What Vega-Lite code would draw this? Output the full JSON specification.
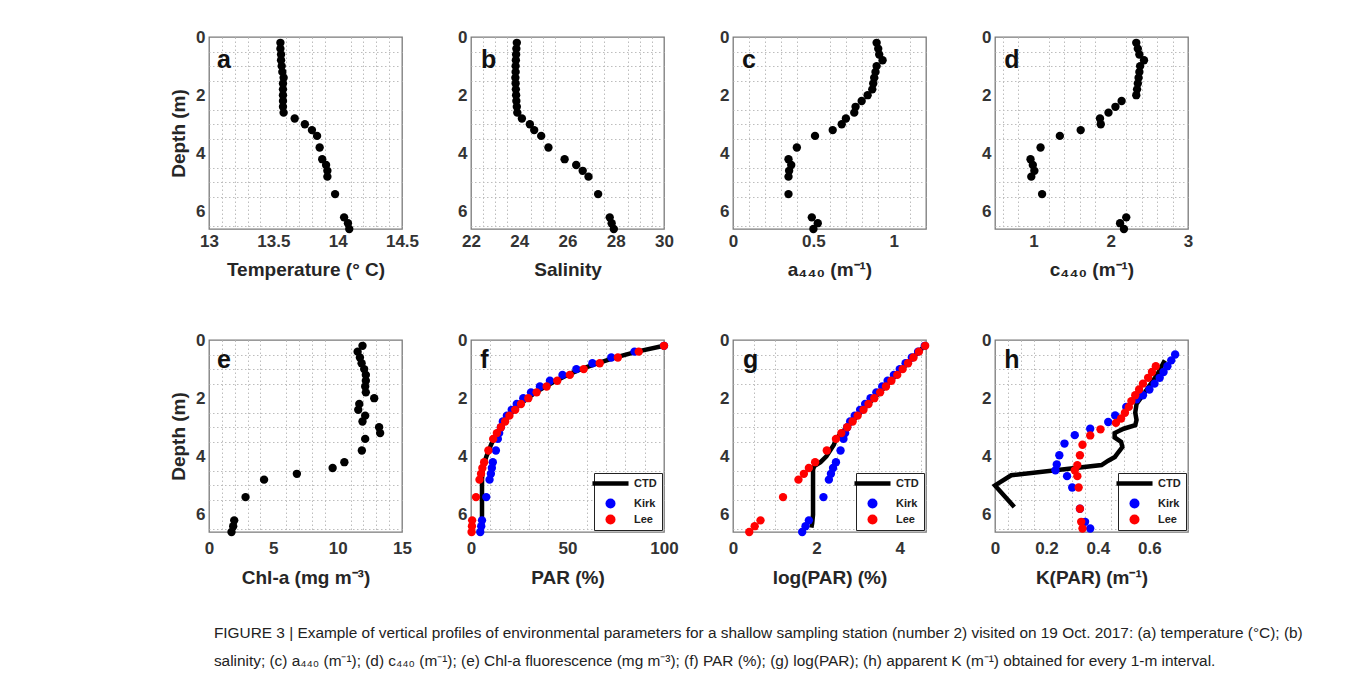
{
  "$schema": "https://vega.github.io/schema/vega-lite/v6.json",
  "background": "white",
  "padding": {"left": 168, "top": 27, "right": 10, "bottom": 6},
  "title": {
    "text": [
      "FIGURE 3 | Example of vertical profiles of environmental parameters for a shallow sampling station (number 2) visited on 19 Oct. 2017: (a) temperature (°C); (b)",
      "salinity; (c) a₄₄₀ (m⁻¹); (d) c₄₄₀ (m⁻¹); (e) Chl-a fluorescence (mg m⁻³); (f) PAR (%); (g) log(PAR); (h) apparent K (m⁻¹) obtained for every 1-m interval."
    ],
    "orient": "bottom", "anchor": "start", "frame": "bounds",
    "font": "Liberation Sans", "fontSize": 15.4, "fontWeight": "normal", "color": "#222222",
    "lineHeight": 28, "offset": 38, "dx": 45
  },
  "columns": 4,
  "spacing": {"row": 111, "column": 69},
  "bounds": "flush",
  "resolve": {"scale": {"color": "independent"}, "legend": {"color": "independent"}},
  "datasets": {
    "a": [
      {"d":0.2,"v":13.555},{"d":0.4,"v":13.555},{"d":0.6,"v":13.56},{"d":0.8,"v":13.56},{"d":1.0,"v":13.565},{"d":1.2,"v":13.57},{"d":1.4,"v":13.58},{"d":1.6,"v":13.575},{"d":1.8,"v":13.575},{"d":2.0,"v":13.575},{"d":2.2,"v":13.575},{"d":2.4,"v":13.575},{"d":2.6,"v":13.58},{"d":2.8,"v":13.666},{"d":3.0,"v":13.745},{"d":3.2,"v":13.8},{"d":3.4,"v":13.84},{"d":3.8,"v":13.86},{"d":4.2,"v":13.88},{"d":4.4,"v":13.91},{"d":4.6,"v":13.92},{"d":4.8,"v":13.92},{"d":5.4,"v":13.98},{"d":6.2,"v":14.05},{"d":6.4,"v":14.08},{"d":6.6,"v":14.09}
    ],
    "b": [
      {"d":0.2,"v":23.9},{"d":0.4,"v":23.88},{"d":0.6,"v":23.87},{"d":0.8,"v":23.86},{"d":1.0,"v":23.85},{"d":1.2,"v":23.85},{"d":1.4,"v":23.84},{"d":1.6,"v":23.85},{"d":1.8,"v":23.86},{"d":2.0,"v":23.87},{"d":2.2,"v":23.88},{"d":2.4,"v":23.9},{"d":2.6,"v":23.92},{"d":2.8,"v":24.11},{"d":3.0,"v":24.44},{"d":3.2,"v":24.62},{"d":3.4,"v":24.91},{"d":3.8,"v":25.21},{"d":4.2,"v":25.88},{"d":4.4,"v":26.36},{"d":4.6,"v":26.63},{"d":4.8,"v":26.87},{"d":5.4,"v":27.27},{"d":6.2,"v":27.75},{"d":6.4,"v":27.83},{"d":6.6,"v":27.92}
    ],
    "c": [
      {"d":0.2,"v":0.893},{"d":0.4,"v":0.903},{"d":0.6,"v":0.909},{"d":0.8,"v":0.93},{"d":1.0,"v":0.893},{"d":1.2,"v":0.886},{"d":1.4,"v":0.878},{"d":1.6,"v":0.872},{"d":1.8,"v":0.866},{"d":2.0,"v":0.837},{"d":2.2,"v":0.8},{"d":2.4,"v":0.762},{"d":2.6,"v":0.754},{"d":2.8,"v":0.702},{"d":3.0,"v":0.676},{"d":3.2,"v":0.62},{"d":3.4,"v":0.51},{"d":3.8,"v":0.397},{"d":4.2,"v":0.345},{"d":4.4,"v":0.362},{"d":4.6,"v":0.349},{"d":4.8,"v":0.345},{"d":5.4,"v":0.345},{"d":6.2,"v":0.49},{"d":6.4,"v":0.527},{"d":6.6,"v":0.5}
    ],
    "dd": [
      {"d":0.2,"v":2.33},{"d":0.4,"v":2.35},{"d":0.6,"v":2.37},{"d":0.8,"v":2.43},{"d":1.0,"v":2.38},{"d":1.2,"v":2.37},{"d":1.4,"v":2.36},{"d":1.6,"v":2.35},{"d":1.8,"v":2.34},{"d":2.0,"v":2.33},{"d":2.2,"v":2.14},{"d":2.4,"v":2.06},{"d":2.6,"v":1.97},{"d":2.8,"v":1.86},{"d":3.0,"v":1.87},{"d":3.2,"v":1.61},{"d":3.4,"v":1.34},{"d":3.8,"v":1.09},{"d":4.2,"v":0.96},{"d":4.4,"v":0.99},{"d":4.6,"v":1.01},{"d":4.8,"v":0.97},{"d":5.4,"v":1.11},{"d":6.2,"v":2.2},{"d":6.4,"v":2.12},{"d":6.6,"v":2.17}
    ],
    "e": [
      {"d":0.2,"v":11.93},{"d":0.4,"v":11.55},{"d":0.6,"v":11.73},{"d":0.8,"v":11.86},{"d":1.0,"v":12.06},{"d":1.2,"v":12.19},{"d":1.4,"v":12.19},{"d":1.6,"v":12.14},{"d":1.8,"v":12.19},{"d":2.0,"v":12.84},{"d":2.2,"v":11.68},{"d":2.4,"v":11.6},{"d":2.6,"v":12.14},{"d":2.8,"v":11.93},{"d":3.0,"v":13.22},{"d":3.2,"v":13.3},{"d":3.4,"v":12.14},{"d":3.8,"v":11.88},{"d":4.2,"v":10.52},{"d":4.4,"v":9.61},{"d":4.6,"v":6.83},{"d":4.8,"v":4.28},{"d":5.4,"v":2.84},{"d":6.2,"v":1.96},{"d":6.4,"v":1.88},{"d":6.6,"v":1.75}
    ],
    "f": [
      {"s":"CTD","d":0.2,"v":100},{"s":"CTD","d":0.4,"v":86},{"s":"CTD","d":0.6,"v":75},{"s":"CTD","d":0.8,"v":65.5},{"s":"CTD","d":1.0,"v":57},{"s":"CTD","d":1.2,"v":50},{"s":"CTD","d":1.4,"v":44},{"s":"CTD","d":1.6,"v":38.5},{"s":"CTD","d":1.8,"v":33.5},{"s":"CTD","d":2.0,"v":29.3},{"s":"CTD","d":2.2,"v":25.6},{"s":"CTD","d":2.4,"v":22.5},{"s":"CTD","d":2.6,"v":19.6},{"s":"CTD","d":2.8,"v":17.3},{"s":"CTD","d":3.0,"v":15.2},{"s":"CTD","d":3.2,"v":13.4},{"s":"CTD","d":3.4,"v":11.8},{"s":"CTD","d":3.6,"v":10.4},{"s":"CTD","d":3.8,"v":9.2},{"s":"CTD","d":4.0,"v":8.0},{"s":"CTD","d":4.2,"v":7.0},{"s":"CTD","d":4.4,"v":6.3},{"s":"CTD","d":4.6,"v":5.9},{"s":"CTD","d":4.8,"v":5.7},{"s":"CTD","d":5.2,"v":5.7},{"s":"CTD","d":5.6,"v":5.7},{"s":"CTD","d":6.0,"v":5.7},{"s":"CTD","d":6.3,"v":5.6},{"s":"CTD","d":6.5,"v":5.5},
      {"s":"Kirk","d":0.2,"v":100},{"s":"Kirk","d":0.4,"v":84.7},{"s":"Kirk","d":0.6,"v":72.7},{"s":"Kirk","d":0.8,"v":62.9},{"s":"Kirk","d":1.0,"v":54.6},{"s":"Kirk","d":1.2,"v":47.4},{"s":"Kirk","d":1.4,"v":40.9},{"s":"Kirk","d":1.6,"v":35.7},{"s":"Kirk","d":1.8,"v":31.1},{"s":"Kirk","d":2.0,"v":27.1},{"s":"Kirk","d":2.2,"v":23.7},{"s":"Kirk","d":2.4,"v":21.1},{"s":"Kirk","d":2.6,"v":18.6},{"s":"Kirk","d":2.8,"v":16.5},{"s":"Kirk","d":3.0,"v":15.5},{"s":"Kirk","d":3.2,"v":14.6},{"s":"Kirk","d":3.4,"v":13.9},{"s":"Kirk","d":3.8,"v":12.9},{"s":"Kirk","d":4.2,"v":11.3},{"s":"Kirk","d":4.4,"v":10.8},{"s":"Kirk","d":4.6,"v":10.3},{"s":"Kirk","d":4.8,"v":9.6},{"s":"Kirk","d":5.4,"v":7.9},{"s":"Kirk","d":6.2,"v":5.7},{"s":"Kirk","d":6.4,"v":5.3},{"s":"Kirk","d":6.6,"v":4.8},
      {"s":"Lee","d":0.2,"v":100},{"s":"Lee","d":0.4,"v":86.9},{"s":"Lee","d":0.6,"v":76.1},{"s":"Lee","d":0.8,"v":66.7},{"s":"Lee","d":1.0,"v":58.4},{"s":"Lee","d":1.2,"v":51.2},{"s":"Lee","d":1.4,"v":44.7},{"s":"Lee","d":1.6,"v":39.2},{"s":"Lee","d":1.8,"v":34.0},{"s":"Lee","d":2.0,"v":29.7},{"s":"Lee","d":2.2,"v":25.9},{"s":"Lee","d":2.4,"v":22.9},{"s":"Lee","d":2.6,"v":19.9},{"s":"Lee","d":2.8,"v":17.7},{"s":"Lee","d":3.0,"v":15.5},{"s":"Lee","d":3.2,"v":13.4},{"s":"Lee","d":3.4,"v":11.5},{"s":"Lee","d":3.8,"v":9.0},{"s":"Lee","d":4.2,"v":6.8},{"s":"Lee","d":4.4,"v":5.9},{"s":"Lee","d":4.6,"v":5.2},{"s":"Lee","d":4.8,"v":4.4},{"s":"Lee","d":5.4,"v":2.6},{"s":"Lee","d":6.2,"v":0.6},{"s":"Lee","d":6.4,"v":0.5},{"s":"Lee","d":6.6,"v":0.3}
    ],
    "g": [
      {"s":"CTD","d":0.2,"v":4.6},{"s":"CTD","d":0.4,"v":4.46},{"s":"CTD","d":0.6,"v":4.32},{"s":"CTD","d":0.8,"v":4.19},{"s":"CTD","d":1.0,"v":4.05},{"s":"CTD","d":1.2,"v":3.92},{"s":"CTD","d":1.4,"v":3.79},{"s":"CTD","d":1.6,"v":3.66},{"s":"CTD","d":1.8,"v":3.52},{"s":"CTD","d":2.0,"v":3.38},{"s":"CTD","d":2.2,"v":3.25},{"s":"CTD","d":2.4,"v":3.12},{"s":"CTD","d":2.6,"v":2.99},{"s":"CTD","d":2.8,"v":2.86},{"s":"CTD","d":3.0,"v":2.73},{"s":"CTD","d":3.2,"v":2.6},{"s":"CTD","d":3.4,"v":2.47},{"s":"CTD","d":3.6,"v":2.42},{"s":"CTD","d":3.8,"v":2.33},{"s":"CTD","d":4.0,"v":2.24},{"s":"CTD","d":4.2,"v":2.1},{"s":"CTD","d":4.33,"v":1.95},{"s":"CTD","d":4.45,"v":1.92},{"s":"CTD","d":5.0,"v":1.92},{"s":"CTD","d":5.5,"v":1.92},{"s":"CTD","d":6.0,"v":1.92},{"s":"CTD","d":6.3,"v":1.9},{"s":"CTD","d":6.45,"v":1.88},
      {"s":"Kirk","d":0.2,"v":4.6},{"s":"Kirk","d":0.4,"v":4.44},{"s":"Kirk","d":0.6,"v":4.29},{"s":"Kirk","d":0.8,"v":4.14},{"s":"Kirk","d":1.0,"v":4.0},{"s":"Kirk","d":1.2,"v":3.86},{"s":"Kirk","d":1.4,"v":3.71},{"s":"Kirk","d":1.6,"v":3.58},{"s":"Kirk","d":1.8,"v":3.44},{"s":"Kirk","d":2.0,"v":3.3},{"s":"Kirk","d":2.2,"v":3.17},{"s":"Kirk","d":2.4,"v":3.05},{"s":"Kirk","d":2.6,"v":2.92},{"s":"Kirk","d":2.8,"v":2.81},{"s":"Kirk","d":3.0,"v":2.74},{"s":"Kirk","d":3.2,"v":2.69},{"s":"Kirk","d":3.4,"v":2.65},{"s":"Kirk","d":3.8,"v":2.58},{"s":"Kirk","d":4.2,"v":2.47},{"s":"Kirk","d":4.4,"v":2.4},{"s":"Kirk","d":4.6,"v":2.35},{"s":"Kirk","d":4.8,"v":2.3},{"s":"Kirk","d":5.4,"v":2.17},{"s":"Kirk","d":6.2,"v":1.82},{"s":"Kirk","d":6.4,"v":1.74},{"s":"Kirk","d":6.6,"v":1.66},
      {"s":"Lee","d":0.2,"v":4.61},{"s":"Lee","d":0.4,"v":4.46},{"s":"Lee","d":0.6,"v":4.33},{"s":"Lee","d":0.8,"v":4.2},{"s":"Lee","d":1.0,"v":4.07},{"s":"Lee","d":1.2,"v":3.94},{"s":"Lee","d":1.4,"v":3.8},{"s":"Lee","d":1.6,"v":3.67},{"s":"Lee","d":1.8,"v":3.53},{"s":"Lee","d":2.0,"v":3.39},{"s":"Lee","d":2.2,"v":3.25},{"s":"Lee","d":2.4,"v":3.13},{"s":"Lee","d":2.6,"v":2.99},{"s":"Lee","d":2.8,"v":2.87},{"s":"Lee","d":3.0,"v":2.74},{"s":"Lee","d":3.2,"v":2.6},{"s":"Lee","d":3.4,"v":2.47},{"s":"Lee","d":3.8,"v":2.25},{"s":"Lee","d":4.2,"v":1.97},{"s":"Lee","d":4.4,"v":1.82},{"s":"Lee","d":4.6,"v":1.7},{"s":"Lee","d":4.8,"v":1.57},{"s":"Lee","d":5.4,"v":1.2},{"s":"Lee","d":6.2,"v":0.66},{"s":"Lee","d":6.4,"v":0.52},{"s":"Lee","d":6.6,"v":0.39}
    ],
    "h": [
      {"s":"CTD","d":0.7,"v":0.66},{"s":"CTD","d":1.2,"v":0.63},{"s":"CTD","d":1.7,"v":0.59},{"s":"CTD","d":2.2,"v":0.55},{"s":"CTD","d":2.5,"v":0.545},{"s":"CTD","d":2.75,"v":0.55},{"s":"CTD","d":2.93,"v":0.545},{"s":"CTD","d":3.05,"v":0.5},{"s":"CTD","d":3.2,"v":0.465},{"s":"CTD","d":3.35,"v":0.465},{"s":"CTD","d":3.5,"v":0.49},{"s":"CTD","d":3.68,"v":0.495},{"s":"CTD","d":3.85,"v":0.48},{"s":"CTD","d":4.02,"v":0.466},{"s":"CTD","d":4.15,"v":0.44},{"s":"CTD","d":4.3,"v":0.414},{"s":"CTD","d":4.65,"v":0.063},{"s":"CTD","d":5.0,"v":0.0},{"s":"CTD","d":5.74,"v":0.075},
      {"s":"Kirk","d":0.5,"v":0.7},{"s":"Kirk","d":0.7,"v":0.685},{"s":"Kirk","d":0.9,"v":0.67},{"s":"Kirk","d":1.1,"v":0.655},{"s":"Kirk","d":1.3,"v":0.64},{"s":"Kirk","d":1.5,"v":0.62},{"s":"Kirk","d":1.7,"v":0.6},{"s":"Kirk","d":1.9,"v":0.575},{"s":"Kirk","d":2.04,"v":0.55},{"s":"Kirk","d":2.3,"v":0.51},{"s":"Kirk","d":2.59,"v":0.467},{"s":"Kirk","d":2.82,"v":0.44},{"s":"Kirk","d":3.05,"v":0.37},{"s":"Kirk","d":3.27,"v":0.31},{"s":"Kirk","d":3.56,"v":0.27},{"s":"Kirk","d":3.96,"v":0.25},{"s":"Kirk","d":4.28,"v":0.24},{"s":"Kirk","d":4.48,"v":0.235},{"s":"Kirk","d":4.68,"v":0.28},{"s":"Kirk","d":5.07,"v":0.3},{"s":"Kirk","d":5.8,"v":0.33},{"s":"Kirk","d":6.25,"v":0.35},{"s":"Kirk","d":6.48,"v":0.37},
      {"s":"Lee","d":0.9,"v":0.625},{"s":"Lee","d":1.1,"v":0.61},{"s":"Lee","d":1.3,"v":0.595},{"s":"Lee","d":1.5,"v":0.575},{"s":"Lee","d":1.7,"v":0.56},{"s":"Lee","d":1.9,"v":0.545},{"s":"Lee","d":2.1,"v":0.53},{"s":"Lee","d":2.3,"v":0.52},{"s":"Lee","d":2.5,"v":0.505},{"s":"Lee","d":2.7,"v":0.49},{"s":"Lee","d":2.85,"v":0.47},{"s":"Lee","d":3.07,"v":0.41},{"s":"Lee","d":3.28,"v":0.37},{"s":"Lee","d":3.6,"v":0.34},{"s":"Lee","d":3.96,"v":0.33},{"s":"Lee","d":4.3,"v":0.32},{"s":"Lee","d":4.48,"v":0.31},{"s":"Lee","d":4.68,"v":0.32},{"s":"Lee","d":5.07,"v":0.325},{"s":"Lee","d":5.8,"v":0.33},{"s":"Lee","d":6.25,"v":0.335},{"s":"Lee","d":6.48,"v":0.34}
    ]
  },
  "concat": [
    {
      "width": 193, "height": 192,
      "layer": [
        {"data": {"values": [{}]},
         "mark": {"type": "text", "text": "a", "fontSize": 25, "fontWeight": "bold", "align": "left", "baseline": "alphabetic", "color": "#111111"},
         "encoding": {
           "x": {"datum": 13.063, "type": "quantitative", "scale": {"domain": [13, 14.5], "nice": false, "zero": false}, "axis": {"orient": "top", "values": [13.1,13.2,13.3,13.4,13.6,13.7,13.8,13.9,14.1,14.2,14.3,14.4], "labels": false, "title": null, "gridDash": [1.5,2.5], "gridColor": "#bdbdbd"}},
           "y": {"datum": 1.05, "type": "quantitative", "scale": {"domain": [0, 6.6], "reverse": true, "nice": false, "zero": false}, "axis": {"orient": "right", "values": [0.5,1,1.5,2.5,3,3.5,4.5,5,5.5,6.5], "labels": false, "title": null, "gridDash": [1.5,2.5], "gridColor": "#bdbdbd"}}
         }},
        {"data": {"name": "a"},
         "mark": {"type": "point", "filled": true, "size": 70, "color": "#000000", "opacity": 1},
         "encoding": {
           "x": {"field": "v", "type": "quantitative", "scale": {"domain": [13, 14.5], "nice": false, "zero": false}, "axis": {"orient": "bottom", "values": [13,13.5,14,14.5], "labelExpr": "'' + datum.value", "labelPadding": 4, "titlePadding": 11, "title": "Temperature (° C)"}},
           "y": {"field": "d", "type": "quantitative", "scale": {"domain": [0, 6.6], "reverse": true, "nice": false, "zero": false}, "axis": {"orient": "left", "values": [0,2,4,6], "labelExpr": "'' + datum.value", "title": "Depth (m)"}}
         }}
      ],
      "resolve": {"axis": {"x": "independent", "y": "independent"}}
    },
    {
      "width": 193, "height": 192,
      "layer": [
        {"data": {"values": [{}]},
         "mark": {"type": "text", "text": "b", "fontSize": 25, "fontWeight": "bold", "align": "left", "baseline": "alphabetic", "color": "#111111"},
         "encoding": {
           "x": {"datum": 22.41, "type": "quantitative", "scale": {"domain": [22, 30], "nice": false, "zero": false}, "axis": {"orient": "top", "values": [22.5,23,23.5,24.5,25,25.5,26.5,27,27.5,28.5,29,29.5], "labels": false, "title": null, "gridDash": [1.5,2.5], "gridColor": "#bdbdbd"}},
           "y": {"datum": 1.05, "type": "quantitative", "scale": {"domain": [0, 6.6], "reverse": true, "nice": false, "zero": false}, "axis": {"orient": "right", "values": [0.5,1,1.5,2.5,3,3.5,4.5,5,5.5,6.5], "labels": false, "title": null, "gridDash": [1.5,2.5], "gridColor": "#bdbdbd"}}
         }},
        {"data": {"name": "b"},
         "mark": {"type": "point", "filled": true, "size": 70, "color": "#000000", "opacity": 1},
         "encoding": {
           "x": {"field": "v", "type": "quantitative", "scale": {"domain": [22, 30], "nice": false, "zero": false}, "axis": {"orient": "bottom", "values": [22,24,26,28,30], "labelExpr": "'' + datum.value", "labelPadding": 4, "titlePadding": 11, "title": "Salinity"}},
           "y": {"field": "d", "type": "quantitative", "scale": {"domain": [0, 6.6], "reverse": true, "nice": false, "zero": false}, "axis": {"orient": "left", "values": [0,2,4,6], "labelExpr": "'' + datum.value", "title": null}}
         }}
      ],
      "resolve": {"axis": {"x": "independent", "y": "independent"}}
    },
    {
      "width": 193, "height": 192,
      "layer": [
        {"data": {"values": [{}]},
         "mark": {"type": "text", "text": "c", "fontSize": 25, "fontWeight": "bold", "align": "left", "baseline": "alphabetic", "color": "#111111"},
         "encoding": {
           "x": {"datum": 0.056, "type": "quantitative", "scale": {"domain": [0, 1.2], "nice": false, "zero": false}, "axis": {"orient": "top", "values": [0.1,0.2,0.3,0.4,0.6,0.7,0.8,0.9,1.1], "labels": false, "title": null, "gridDash": [1.5,2.5], "gridColor": "#bdbdbd"}},
           "y": {"datum": 1.05, "type": "quantitative", "scale": {"domain": [0, 6.6], "reverse": true, "nice": false, "zero": false}, "axis": {"orient": "right", "values": [0.5,1,1.5,2.5,3,3.5,4.5,5,5.5,6.5], "labels": false, "title": null, "gridDash": [1.5,2.5], "gridColor": "#bdbdbd"}}
         }},
        {"data": {"name": "c"},
         "mark": {"type": "point", "filled": true, "size": 70, "color": "#000000", "opacity": 1},
         "encoding": {
           "x": {"field": "v", "type": "quantitative", "scale": {"domain": [0, 1.2], "nice": false, "zero": false}, "axis": {"orient": "bottom", "values": [0,0.5,1], "labelExpr": "'' + datum.value", "labelPadding": 4, "titlePadding": 11, "title": "a₄₄₀ (m⁻¹)"}},
           "y": {"field": "d", "type": "quantitative", "scale": {"domain": [0, 6.6], "reverse": true, "nice": false, "zero": false}, "axis": {"orient": "left", "values": [0,2,4,6], "labelExpr": "'' + datum.value", "title": null}}
         }}
      ],
      "resolve": {"axis": {"x": "independent", "y": "independent"}}
    },
    {
      "width": 193, "height": 192,
      "layer": [
        {"data": {"values": [{}]},
         "mark": {"type": "text", "text": "d", "fontSize": 25, "fontWeight": "bold", "align": "left", "baseline": "alphabetic", "color": "#111111"},
         "encoding": {
           "x": {"datum": 0.62, "type": "quantitative", "scale": {"domain": [0.5, 3], "nice": false, "zero": false}, "axis": {"orient": "top", "values": [0.6,0.8,1.2,1.4,1.6,1.8,2.2,2.4,2.6,2.8], "labels": false, "title": null, "gridDash": [1.5,2.5], "gridColor": "#bdbdbd"}},
           "y": {"datum": 1.05, "type": "quantitative", "scale": {"domain": [0, 6.6], "reverse": true, "nice": false, "zero": false}, "axis": {"orient": "right", "values": [0.5,1,1.5,2.5,3,3.5,4.5,5,5.5,6.5], "labels": false, "title": null, "gridDash": [1.5,2.5], "gridColor": "#bdbdbd"}}
         }},
        {"data": {"name": "dd"},
         "mark": {"type": "point", "filled": true, "size": 70, "color": "#000000", "opacity": 1},
         "encoding": {
           "x": {"field": "v", "type": "quantitative", "scale": {"domain": [0.5, 3], "nice": false, "zero": false}, "axis": {"orient": "bottom", "values": [1,2,3], "labelExpr": "'' + datum.value", "labelPadding": 4, "titlePadding": 11, "title": "c₄₄₀ (m⁻¹)"}},
           "y": {"field": "d", "type": "quantitative", "scale": {"domain": [0, 6.6], "reverse": true, "nice": false, "zero": false}, "axis": {"orient": "left", "values": [0,2,4,6], "labelExpr": "'' + datum.value", "title": null}}
         }}
      ],
      "resolve": {"axis": {"x": "independent", "y": "independent"}}
    },
    {
      "width": 193, "height": 192,
      "layer": [
        {"data": {"values": [{}]},
         "mark": {"type": "text", "text": "e", "fontSize": 25, "fontWeight": "bold", "align": "left", "baseline": "alphabetic", "color": "#111111"},
         "encoding": {
           "x": {"datum": 0.62, "type": "quantitative", "scale": {"domain": [0, 15], "nice": false, "zero": false}, "axis": {"orient": "top", "values": [1,2,3,4,6,7,8,9,11,12,13,14], "labels": false, "title": null, "gridDash": [1.5,2.5], "gridColor": "#bdbdbd"}},
           "y": {"datum": 0.97, "type": "quantitative", "scale": {"domain": [0, 6.6], "reverse": true, "nice": false, "zero": false}, "axis": {"orient": "right", "values": [0.5,1,1.5,2.5,3,3.5,4.5,5,5.5,6.5], "labels": false, "title": null, "gridDash": [1.5,2.5], "gridColor": "#bdbdbd"}}
         }},
        {"data": {"name": "e"},
         "mark": {"type": "point", "filled": true, "size": 70, "color": "#000000", "opacity": 1},
         "encoding": {
           "x": {"field": "v", "type": "quantitative", "scale": {"domain": [0, 15], "nice": false, "zero": false}, "axis": {"orient": "bottom", "values": [0,5,10,15], "labelExpr": "'' + datum.value", "labelPadding": 8, "titlePadding": 12, "title": "Chl-a (mg m⁻³)"}},
           "y": {"field": "d", "type": "quantitative", "scale": {"domain": [0, 6.6], "reverse": true, "nice": false, "zero": false}, "axis": {"orient": "left", "values": [0,2,4,6], "labelExpr": "'' + datum.value", "title": "Depth (m)"}}
         }}
      ],
      "resolve": {"axis": {"x": "independent", "y": "independent"}}
    },
    {
      "width": 193, "height": 192,
      "layer": [
        {"data": {"values": [{}]},
         "mark": {"type": "text", "text": "f", "fontSize": 25, "fontWeight": "bold", "align": "left", "baseline": "alphabetic", "color": "#111111"},
         "encoding": {
           "x": {"datum": 4.8, "type": "quantitative", "scale": {"domain": [0, 100], "nice": false, "zero": false}, "axis": {"orient": "top", "values": [10,20,30,40,60,70,80,90], "labels": false, "title": null, "gridDash": [1.5,2.5], "gridColor": "#bdbdbd"}},
           "y": {"datum": 0.97, "type": "quantitative", "scale": {"domain": [0, 6.6], "reverse": true, "nice": false, "zero": false}, "axis": {"orient": "right", "values": [0.5,1,1.5,2.5,3,3.5,4.5,5,5.5,6.5], "labels": false, "title": null, "gridDash": [1.5,2.5], "gridColor": "#bdbdbd"}}
         }},
        {"data": {"name": "f"},
         "transform": [{"filter": "datum.s === 'CTD'"}],
         "mark": {"type": "line", "strokeWidth": 4.5},
         "encoding": {
           "x": {"field": "v", "type": "quantitative", "scale": {"domain": [0, 100], "nice": false, "zero": false}, "axis": {"orient": "bottom", "values": [0,50,100], "labelExpr": "'' + datum.value", "labelPadding": 8, "titlePadding": 12, "title": "PAR (%)"}},
           "y": {"field": "d", "type": "quantitative", "scale": {"domain": [0, 6.6], "reverse": true, "nice": false, "zero": false}, "axis": {"orient": "left", "values": [0,2,4,6], "labelExpr": "'' + datum.value", "title": null}},
           "order": {"field": "d", "type": "quantitative"},
           "color": {"field": "s", "type": "nominal", "scale": {"domain": ["CTD","Kirk","Lee"], "range": ["#000000","#0000ff","#ff0000"]},
             "legend": {"title": null, "orient": "bottom-right", "offset": 2, "padding": 5, "fillColor": "white", "strokeColor": "#222222", "labelFontSize": 11, "labelFontWeight": "bold", "labelColor": "#222222", "rowPadding": 4, "labelOffset": 18, "symbolOffset": 6,
               "symbolType": {"expr": "datum.value === 'CTD' ? 'stroke' : 'circle'"}, "symbolSize": {"expr": "datum.value === 'CTD' ? 1300 : 100"}, "symbolStrokeWidth": {"expr": "datum.value === 'CTD' ? 4.5 : 0"}, "symbolOpacity": 1}}
         }},
        {"data": {"name": "f"},
         "transform": [{"filter": "datum.s !== 'CTD'"}],
         "mark": {"type": "point", "filled": true, "size": 70, "opacity": 1},
         "encoding": {
           "x": {"field": "v", "type": "quantitative", "axis": null},
           "y": {"field": "d", "type": "quantitative", "axis": null},
           "color": {"field": "s", "type": "nominal", "scale": {"domain": ["CTD","Kirk","Lee"], "range": ["#000000","#0000ff","#ff0000"]},
             "legend": {"title": null, "orient": "bottom-right", "offset": 2, "padding": 5, "fillColor": "white", "strokeColor": "#222222", "labelFontSize": 11, "labelFontWeight": "bold", "labelColor": "#222222", "rowPadding": 4, "labelOffset": 18, "symbolOffset": 6,
               "symbolType": {"expr": "datum.value === 'CTD' ? 'stroke' : 'circle'"}, "symbolSize": {"expr": "datum.value === 'CTD' ? 1300 : 100"}, "symbolStrokeWidth": {"expr": "datum.value === 'CTD' ? 4.5 : 0"}, "symbolOpacity": 1}}
         }}
      ],
      "resolve": {"axis": {"x": "independent", "y": "independent"}}
    },
    {
      "width": 193, "height": 192,
      "layer": [
        {"data": {"values": [{}]},
         "mark": {"type": "text", "text": "g", "fontSize": 25, "fontWeight": "bold", "align": "left", "baseline": "alphabetic", "color": "#111111"},
         "encoding": {
           "x": {"datum": 0.24, "type": "quantitative", "scale": {"domain": [0, 4.63], "nice": false, "zero": false}, "axis": {"orient": "top", "values": [0.5,1,1.5,2.5,3,3.5,4.5], "labels": false, "title": null, "gridDash": [1.5,2.5], "gridColor": "#bdbdbd"}},
           "y": {"datum": 0.97, "type": "quantitative", "scale": {"domain": [0, 6.6], "reverse": true, "nice": false, "zero": false}, "axis": {"orient": "right", "values": [0.5,1,1.5,2.5,3,3.5,4.5,5,5.5,6.5], "labels": false, "title": null, "gridDash": [1.5,2.5], "gridColor": "#bdbdbd"}}
         }},
        {"data": {"name": "g"},
         "transform": [{"filter": "datum.s === 'CTD'"}],
         "mark": {"type": "line", "strokeWidth": 4.5},
         "encoding": {
           "x": {"field": "v", "type": "quantitative", "scale": {"domain": [0, 4.63], "nice": false, "zero": false}, "axis": {"orient": "bottom", "values": [0,2,4], "labelExpr": "'' + datum.value", "labelPadding": 8, "titlePadding": 12, "title": "log(PAR) (%)"}},
           "y": {"field": "d", "type": "quantitative", "scale": {"domain": [0, 6.6], "reverse": true, "nice": false, "zero": false}, "axis": {"orient": "left", "values": [0,2,4,6], "labelExpr": "'' + datum.value", "title": null}},
           "order": {"field": "d", "type": "quantitative"},
           "color": {"field": "s", "type": "nominal", "scale": {"domain": ["CTD","Kirk","Lee"], "range": ["#000000","#0000ff","#ff0000"]},
             "legend": {"title": null, "orient": "bottom-right", "offset": 2, "padding": 5, "fillColor": "white", "strokeColor": "#222222", "labelFontSize": 11, "labelFontWeight": "bold", "labelColor": "#222222", "rowPadding": 4, "labelOffset": 18, "symbolOffset": 6,
               "symbolType": {"expr": "datum.value === 'CTD' ? 'stroke' : 'circle'"}, "symbolSize": {"expr": "datum.value === 'CTD' ? 1300 : 100"}, "symbolStrokeWidth": {"expr": "datum.value === 'CTD' ? 4.5 : 0"}, "symbolOpacity": 1}}
         }},
        {"data": {"name": "g"},
         "transform": [{"filter": "datum.s !== 'CTD'"}],
         "mark": {"type": "point", "filled": true, "size": 70, "opacity": 1},
         "encoding": {
           "x": {"field": "v", "type": "quantitative", "axis": null},
           "y": {"field": "d", "type": "quantitative", "axis": null},
           "color": {"field": "s", "type": "nominal", "scale": {"domain": ["CTD","Kirk","Lee"], "range": ["#000000","#0000ff","#ff0000"]},
             "legend": {"title": null, "orient": "bottom-right", "offset": 2, "padding": 5, "fillColor": "white", "strokeColor": "#222222", "labelFontSize": 11, "labelFontWeight": "bold", "labelColor": "#222222", "rowPadding": 4, "labelOffset": 18, "symbolOffset": 6,
               "symbolType": {"expr": "datum.value === 'CTD' ? 'stroke' : 'circle'"}, "symbolSize": {"expr": "datum.value === 'CTD' ? 1300 : 100"}, "symbolStrokeWidth": {"expr": "datum.value === 'CTD' ? 4.5 : 0"}, "symbolOpacity": 1}}
         }}
      ],
      "resolve": {"axis": {"x": "independent", "y": "independent"}}
    },
    {
      "width": 193, "height": 192,
      "layer": [
        {"data": {"values": [{}]},
         "mark": {"type": "text", "text": "h", "fontSize": 25, "fontWeight": "bold", "align": "left", "baseline": "alphabetic", "color": "#111111"},
         "encoding": {
           "x": {"datum": 0.036, "type": "quantitative", "scale": {"domain": [0, 0.75], "nice": false, "zero": false}, "axis": {"orient": "top", "values": [0.05,0.1,0.15,0.25,0.3,0.35,0.45,0.5,0.55,0.65,0.7], "labels": false, "title": null, "gridDash": [1.5,2.5], "gridColor": "#bdbdbd"}},
           "y": {"datum": 0.97, "type": "quantitative", "scale": {"domain": [0, 6.6], "reverse": true, "nice": false, "zero": false}, "axis": {"orient": "right", "values": [0.5,1,1.5,2.5,3,3.5,4.5,5,5.5,6.5], "labels": false, "title": null, "gridDash": [1.5,2.5], "gridColor": "#bdbdbd"}}
         }},
        {"data": {"name": "h"},
         "transform": [{"filter": "datum.s === 'CTD'"}],
         "mark": {"type": "line", "strokeWidth": 4.5},
         "encoding": {
           "x": {"field": "v", "type": "quantitative", "scale": {"domain": [0, 0.75], "nice": false, "zero": false}, "axis": {"orient": "bottom", "values": [0,0.2,0.4,0.6], "labelExpr": "'' + datum.value", "labelPadding": 8, "titlePadding": 12, "title": "K(PAR) (m⁻¹)"}},
           "y": {"field": "d", "type": "quantitative", "scale": {"domain": [0, 6.6], "reverse": true, "nice": false, "zero": false}, "axis": {"orient": "left", "values": [0,2,4,6], "labelExpr": "'' + datum.value", "title": null}},
           "order": {"field": "d", "type": "quantitative"},
           "color": {"field": "s", "type": "nominal", "scale": {"domain": ["CTD","Kirk","Lee"], "range": ["#000000","#0000ff","#ff0000"]},
             "legend": {"title": null, "orient": "bottom-right", "offset": 2, "padding": 5, "fillColor": "white", "strokeColor": "#222222", "labelFontSize": 11, "labelFontWeight": "bold", "labelColor": "#222222", "rowPadding": 4, "labelOffset": 18, "symbolOffset": 6,
               "symbolType": {"expr": "datum.value === 'CTD' ? 'stroke' : 'circle'"}, "symbolSize": {"expr": "datum.value === 'CTD' ? 1300 : 100"}, "symbolStrokeWidth": {"expr": "datum.value === 'CTD' ? 4.5 : 0"}, "symbolOpacity": 1}}
         }},
        {"data": {"name": "h"},
         "transform": [{"filter": "datum.s !== 'CTD'"}],
         "mark": {"type": "point", "filled": true, "size": 70, "opacity": 1},
         "encoding": {
           "x": {"field": "v", "type": "quantitative", "axis": null},
           "y": {"field": "d", "type": "quantitative", "axis": null},
           "color": {"field": "s", "type": "nominal", "scale": {"domain": ["CTD","Kirk","Lee"], "range": ["#000000","#0000ff","#ff0000"]},
             "legend": {"title": null, "orient": "bottom-right", "offset": 2, "padding": 5, "fillColor": "white", "strokeColor": "#222222", "labelFontSize": 11, "labelFontWeight": "bold", "labelColor": "#222222", "rowPadding": 4, "labelOffset": 18, "symbolOffset": 6,
               "symbolType": {"expr": "datum.value === 'CTD' ? 'stroke' : 'circle'"}, "symbolSize": {"expr": "datum.value === 'CTD' ? 1300 : 100"}, "symbolStrokeWidth": {"expr": "datum.value === 'CTD' ? 4.5 : 0"}, "symbolOpacity": 1}}
         }}
      ],
      "resolve": {"axis": {"x": "independent", "y": "independent"}}
    }
  ],
  "config": {
    "font": "Liberation Sans",
    "view": {"stroke": "#7a7a7a", "strokeWidth": 1.3},
    "axis": {"labelFont": "Liberation Sans", "labelFontSize": 17, "labelFontWeight": "bold", "labelColor": "#333333", "titleFont": "Liberation Sans", "titleFontSize": 19, "titleFontWeight": "bold", "titleColor": "#262626", "ticks": false, "domain": false, "grid": true, "gridColor": "#d9d9d9", "gridWidth": 1, "labelFlush": false, "labelOverlap": false},
    "axisY": {"labelPadding": 4, "titlePadding": 7},
    "legend": {"labelFont": "Liberation Sans"}
  }
}
